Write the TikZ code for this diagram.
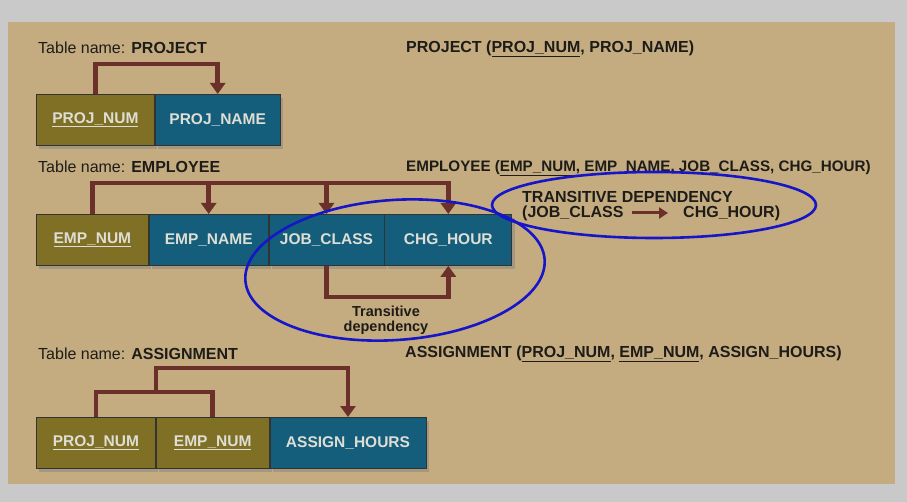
\documentclass[tikz,border=0pt]{standalone}
\usepackage{fontspec}
\setmainfont{Liberation Sans}
\usetikzlibrary{positioning,arrows.meta,shapes.geometric,shadows}
\definecolor{outc}{RGB}{201,201,201}
\definecolor{panc}{RGB}{196,172,128}
\definecolor{keyc}{RGB}{128,112,38}
\definecolor{attc}{RGB}{20,94,124}
\definecolor{depc}{RGB}{108,48,42}
\definecolor{ringc}{RGB}{22,22,200}
\definecolor{cellt}{RGB}{222,222,212}
\definecolor{inkc}{RGB}{30,28,24}
\tikzset{
  keybox/.style={rectangle, minimum height=51pt, text centered, draw=black!80, line width=0.8pt, fill=keyc, text=cellt, font=\fontsize{15.5}{17}\selectfont\bfseries, drop shadow={shadow xshift=3pt, shadow yshift=-4pt, opacity=0.45}},
  attbox/.style={keybox, fill=attc},
  dep/.style={draw=depc, line width=4.5pt, -{Triangle[width=15pt,length=11pt]}},
  ring/.style={ellipse, draw=ringc, line width=2.6pt},
  lbl/.style={anchor=west, inner sep=0pt, text=inkc, font=\fontsize{16}{18}\selectfont},
  node distance=0pt
}

\begin{document}
\begin{tikzpicture}[x=1pt,y=-1pt]
	\useasboundingbox (0,0) rectangle (907,502);
	\fill[outc] (0,0) rectangle (907,502);
	\fill[panc] (8,22) rectangle (895,484);

	\node[lbl] (tproj) at (38,48) {Table name: \textbf{PROJECT}};
	\node[lbl] (rproj) at (406,49) {\textbf{PROJECT (\underline{PROJ\_NUM}, PROJ\_NAME)}};
	\node[keybox, minimum width=118pt, anchor=north west] (pnum) at (36,94) {\underline{PROJ\_NUM}};
	\node[attbox, minimum width=125pt, right=of pnum] (pname) {PROJ\_NAME};
	\draw[dep] (pnum.north) -- ++(0,-30) -| (pname.north);

	\node[lbl] (temp) at (38,167) {Table name: \textbf{EMPLOYEE}};
	\node[lbl, font=\fontsize{15.2}{18}\selectfont] (remp) at (406,168) {\textbf{EMPLOYEE (\underline{EMP\_NUM}, EMP\_NAME, JOB\_CLASS, CHG\_HOUR)}};
	\node[keybox, minimum width=112pt, anchor=north west] (enum) at (36,214) {\underline{EMP\_NUM}};
	\node[attbox, minimum width=119pt, right=of enum] (ename) {EMP\_NAME};
	\node[attbox, minimum width=115pt, right=of ename] (jclass) {JOB\_CLASS};
	\node[attbox, minimum width=127pt, right=of jclass] (chour) {CHG\_HOUR};
	\draw[dep] (enum.north) -- ++(0,-31) coordinate (ebus) -| (chour.north);
	\draw[dep] (ebus -| ename.north) -- (ename.north);
	\draw[dep] (ebus -| jclass.north) -- (jclass.north);
	\draw[dep] (jclass.south) -- ++(0,31) -| (chour.south);
	\node[align=center, text=inkc, font=\fontsize{14.5}{15}\selectfont\bfseries] (tdep) at (386,320) {Transitive\\dependency};
	\node[ring, minimum width=300pt, minimum height=140pt, rotate=4] (ring1) at (395,270) {};

	\node[lbl, font=\fontsize{16}{18}\selectfont\bfseries] (tdhead) at (522,197) {TRANSITIVE DEPENDENCY};
	\node[lbl, font=\fontsize{16}{18}\selectfont\bfseries] (tdfrom) at (522,213) {(JOB\_CLASS};
	\node[lbl, font=\fontsize{16}{18}\selectfont\bfseries] (tdto) at (683,213) {CHG\_HOUR)};
	\draw[dep, line width=3pt, -{Triangle[width=11pt,length=9pt]}] ([xshift=8pt]tdfrom.east) -- ([xshift=-15pt]tdto.west);
	\node[ring, minimum width=324pt, minimum height=66pt] (ring2) at (654,205) {};

	\node[lbl] (tasg) at (38,354) {Table name: \textbf{ASSIGNMENT}};
	\node[lbl] (rasg) at (405,354) {\textbf{ASSIGNMENT (\underline{PROJ\_NUM}, \underline{EMP\_NUM}, ASSIGN\_HOURS)}};
	\node[keybox, minimum width=119pt, anchor=north west] (anum) at (36,417) {\underline{PROJ\_NUM}};
	\node[keybox, minimum width=113pt, right=of anum] (aenum) {\underline{EMP\_NUM}};
	\node[attbox, minimum width=156pt, right=of aenum] (ahours) {ASSIGN\_HOURS};
	\draw[dep, -] (anum.north) -- ++(0,-25) coordinate (abus) -| (aenum.north);
	\draw[dep] (abus -| anum.east) -- ++(0,-24) -| (ahours.north);
\end{tikzpicture}
\end{document}
